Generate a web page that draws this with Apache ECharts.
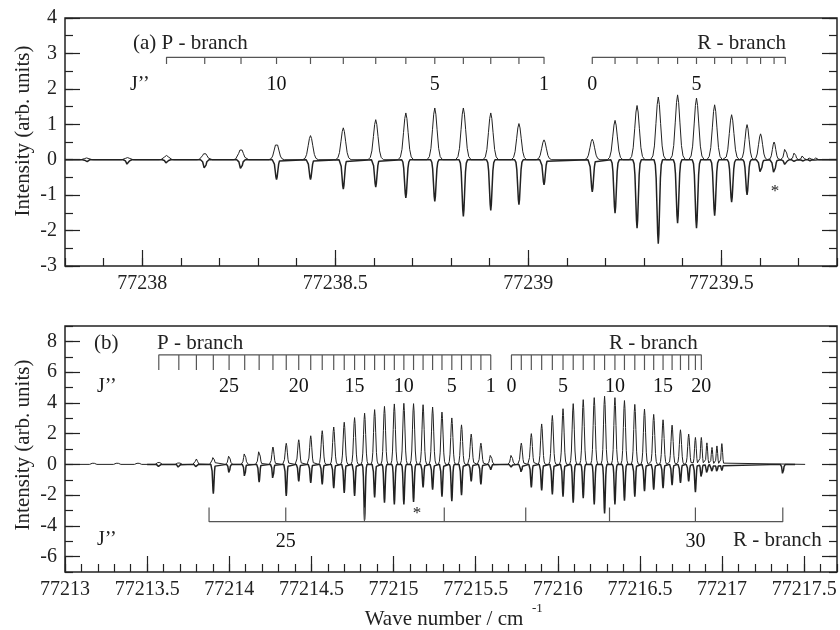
<!DOCTYPE html>
<html>
<head>
<meta charset="utf-8">
<script src="https://cdn.jsdelivr.net/npm/echarts@6/dist/echarts.min.js"></script>
<style>
  html, body { margin: 0; padding: 0; background: #fff; }
  #chart { width: 840px; height: 630px; }
</style>
</head>
<body>
<div id="chart"></div>
<script>
// ---- panel (a) ----
const topPJ = [15, 14, 13, 12, 11, 10, 9, 8, 7, 6, 5, 4, 3, 2, 1]
const topPPos = [77237.856, 77237.962, 77238.063, 77238.162, 77238.256, 77238.348, 77238.436, 77238.521,
  77238.605, 77238.683, 77238.758, 77238.832, 77238.903, 77238.976, 77239.041]
const topPUp = [0.05, 0.06, 0.12, 0.19, 0.31, 0.47, 0.68, 0.9, 1.13, 1.32, 1.46, 1.46, 1.32, 1.02, 0.56]
const topPDown = [-0.06, -0.14, -0.1, -0.26, -0.28, -0.56, -0.56, -0.83, -0.77, -1.08, -1.18, -1.6, -1.43, -1.27, -0.71]

const topRJ = [0, 1, 2, 3, 4, 5, 6, 7, 8, 9, 10, 11, 12, 13, 14, 15]
const topRPos = [77239.166, 77239.225, 77239.282, 77239.337, 77239.387, 77239.436, 77239.483, 77239.527,
  77239.567, 77239.602, 77239.637, 77239.666, 77239.690, 77239.711, 77239.730, 77239.745]
const topRUp = [0.58, 1.11, 1.53, 1.77, 1.83, 1.74, 1.55, 1.27, 0.99, 0.73, 0.5, 0.33, 0.21, 0.12, 0.08, 0.05]
const topRDown = [-0.91, -1.51, -1.93, -2.37, -1.79, -1.93, -1.58, -1.2, -0.99, -0.38, -0.4, -0.15, -0.05, -0.04, -0.03, -0.02]

const topPCombMaxJ = 13
const topRCombMaxJ = 11
const topPLabelJ = [10, 5, 1]
const topRLabelJ = [0, 5]

const topXTicks = [77238, 77238.5, 77239, 77239.5]
const topYTicks = [-3, -2, -1, 0, 1, 2, 3, 4]

// ---- panel (b) ----
const botPJ = [29, 28, 27, 26, 25, 24, 23, 22, 21, 20, 19, 18, 17, 16, 15, 14, 13, 12, 11, 10, 9, 8, 7, 6, 5, 4, 3, 2, 1]
const botPPos = [77213.571, 77213.693, 77213.800, 77213.903, 77213.999, 77214.094, 77214.182, 77214.266,
  77214.347, 77214.423, 77214.496, 77214.566, 77214.636, 77214.700, 77214.763, 77214.824, 77214.885,
  77214.945, 77215.005, 77215.063, 77215.122, 77215.180, 77215.238, 77215.295, 77215.355, 77215.414,
  77215.473, 77215.532, 77215.592]
const botPUp = [0.2, 0.15, 0.35, 0.5, 0.6, 0.77, 0.93, 1.13, 1.37, 1.6, 1.86, 2.19, 2.43, 2.74, 3.04,
  3.33, 3.56, 3.77, 3.93, 3.97, 3.95, 3.88, 3.73, 3.4, 3.02, 2.57, 1.97, 1.38, 0.66]
const botPDown = [-0.15, -0.3, -0.25, -1.9, -0.6, -0.85, -1.15, -1.0, -2.05, -1.1, -1.2, -1.3, -1.55, -1.85,
  -2.05, -3.6, -2.15, -2.5, -2.6, -2.6, -2.45, -1.5, -1.65, -2.1, -2.4, -2.0, -1.1, -1.3, -0.35]

const botRJ = [0, 1, 2, 3, 4, 5, 6, 7, 8, 9, 10, 11, 12, 13, 14, 15, 16, 17, 18, 19, 20]
const botRPos = [77215.718, 77215.778, 77215.839, 77215.902, 77215.967, 77216.032, 77216.094, 77216.155,
  77216.222, 77216.285, 77216.348, 77216.406, 77216.469, 77216.528, 77216.584, 77216.641, 77216.696,
  77216.747, 77216.797, 77216.838, 77216.874]
const botRUp = [0.66, 1.38, 2.0, 2.63, 3.18, 3.62, 3.95, 4.21, 4.34, 4.43, 4.34, 4.15, 3.9, 3.6, 3.25,
  2.9, 2.55, 2.25, 1.97, 1.75, 1.75]
const botRDown = [-0.2, -0.55, -1.5, -1.7, -1.95, -2.1, -2.5, -2.2, -2.6, -3.2, -2.6, -2.37, -2.1, -1.75,
  -1.65, -1.55, -1.35, -1.2, -1.1, -1.8, -0.9]

const botTailPos = [77216.908, 77216.939, 77216.969, 77216.999]
const botTailUp = [1.4, 1.1, 1.2, 1.35]
const botTailDown = [-0.6, -0.5, -0.5, -0.4]

const botPrePos = [77213.172, 77213.318, 77213.445]
const botPreUp = [0.12, 0.12, 0.12]

const botDipPos = [77217.37]
const botDipDown = [-0.66]

// lower comb (other band, R branch)
const lowJ = [24, 25, 26, 27, 28, 29, 30, 31]
const lowPos = [77213.877, 77214.344, 77214.823, 77215.309, 77215.805, 77216.315, 77216.838, 77217.370]
const lowLabelJ = [25, 30]
const botPLabelJ = [25, 20, 15, 10, 5, 1]
const botRLabelJ = [0, 5, 10, 15, 20]

const botXTicks = [77213, 77213.5, 77214, 77214.5, 77215, 77215.5, 77216, 77216.5, 77217, 77217.5]
const botYTicks = [-6, -4, -2, 0, 2, 4, 6, 8]

const FONT = 'Liberation Serif'
const INK = '#222'
// peak outline, in units of half width / height
const SHAPE = [[-1, 0], [-0.7, 0.06], [-0.5, 0.22], [-0.3, 0.58], [-0.14, 0.88], [0, 1],
  [0.14, 0.88], [0.3, 0.58], [0.5, 0.22], [0.7, 0.06], [1, 0]]

function trace(groups, halfWidth, start, end) {
  const peaks = []
  groups.forEach(([pos, amp]) => pos.forEach((x, i) => peaks.push([x, amp[i]])))
  peaks.sort((a, b) => a[0] - b[0])
  const pts = [[start, 0]]
  peaks.forEach(([x, a], i) => {
    let w = halfWidth
    if (i > 0) w = Math.min(w, (x - peaks[i - 1][0]) / 2)
    if (i < peaks.length - 1) w = Math.min(w, (peaks[i + 1][0] - x) / 2)
    SHAPE.forEach(([dx, f]) => pts.push([x + dx * w, a * f]))
  })
  pts.push([end, 0])
  return pts
}

function comb(pos, yLine, yTick) {
  const pts = []
  pos.forEach(x => pts.push([x, yLine], [x, yTick], [x, yLine]))
  return pts
}

function pick(js, pos, keep) {
  return pos.filter((x, i) => keep(js[i]))
}

function combLabels(js, pos, want, y) {
  return want.map(j => ({name: String(j), value: [pos[js.indexOf(j)], y]}))
}

function xAxes(grid, min, max, majors) {
  return [
    {type: 'value', gridIndex: grid, min, max, position: 'bottom',
      axisLine: {show: false, onZero: false}, splitLine: {show: false},
      axisTick: {inside: true, length: 16, customValues: majors, lineStyle: {color: INK, width: 1.2}},
      axisLabel: {customValues: majors, color: INK, fontFamily: FONT, fontSize: 20, margin: 8, formatter: v => String(v)}},
    {type: 'value', gridIndex: grid, min, max, interval: 0.1, position: 'bottom',
      axisLine: {show: false, onZero: false}, splitLine: {show: false}, axisLabel: {show: false},
      axisTick: {inside: true, length: 8, lineStyle: {color: INK, width: 1.2}}}
  ]
}

function yAxes(grid, min, max, majors, minorStep) {
  const out = []
  ;['left', 'right'].forEach(side => {
    out.push({type: 'value', gridIndex: grid, min, max, position: side,
      axisLine: {show: false, onZero: false}, splitLine: {show: false},
      axisTick: {inside: true, length: 15, customValues: majors, lineStyle: {color: INK, width: 1.2}},
      axisLabel: side === 'left'
        ? {customValues: majors, color: INK, fontFamily: FONT, fontSize: 20, margin: 8}
        : {show: false}})
    out.push({type: 'value', gridIndex: grid, min, max, interval: minorStep, position: side,
      axisLine: {show: false, onZero: false}, splitLine: {show: false}, axisLabel: {show: false},
      axisTick: {inside: true, length: 8, lineStyle: {color: INK, width: 1.2}}})
  })
  return out
}

function lineSeries(data, xi, yi, width, color) {
  return {type: 'line', xAxisIndex: xi, yAxisIndex: yi, data, symbol: 'none', silent: true,
    lineStyle: {color: color || INK, width}, z: 3}
}

function labelSeries(data, xi, yi) {
  return {type: 'scatter', xAxisIndex: xi, yAxisIndex: yi, data, symbolSize: 0.1, silent: true, z: 5,
    itemStyle: {color: INK, opacity: 1},
    label: {show: true, position: 'inside', formatter: '{b}', color: '#111', opacity: 1,
      fontFamily: FONT, fontSize: 20, textBorderWidth: 0}}
}

function text(t, x, y, align, size, rot) {
  return {type: 'text', x, y, rotation: rot || 0, silent: true,
    style: {text: t, fill: INK, fontFamily: FONT, fontSize: size || 21, align: align || 'left', verticalAlign: 'middle'}}
}

const chart = echarts.init(document.getElementById('chart'))

const series = [
  // panel (a)
  lineSeries(trace([[topPPos, topPUp], [topRPos, topRUp]], 0.02, 77237.8, 77239.8), 0, 0, 1),
  lineSeries(trace([[topPPos, topPDown], [topRPos, topRDown]], 0.011, 77237.8, 77239.8), 0, 0, 1.5),
  lineSeries(comb(pick(topPJ, topPPos, j => j <= topPCombMaxJ), 2.89, 2.7), 0, 0, 1.2, '#555'),
  lineSeries(comb(pick(topRJ, topRPos, j => j <= topRCombMaxJ), 2.89, 2.7), 0, 0, 1.2, '#555'),
  labelSeries(combLabels(topPJ, topPPos, topPLabelJ, 2.12)
    .concat(combLabels(topRJ, topRPos, topRLabelJ, 2.12)), 0, 0),
  // panel (b)
  lineSeries(trace([[botPrePos, botPreUp], [botPPos, botPUp], [botRPos, botRUp], [botTailPos, botTailUp]],
    0.022, 77213, 77217.506), 2, 4, 1),
  lineSeries(trace([[botPPos, botPDown], [botRPos, botRDown], [botTailPos, botTailDown], [botDipPos, botDipDown]],
    0.015, 77213.5, 77217.445), 2, 4, 1.5),
  lineSeries(comb(botPPos, 7.12, 6.14), 2, 4, 1.2, '#555'),
  lineSeries(comb(botRPos, 7.12, 6.14), 2, 4, 1.2, '#555'),
  lineSeries(comb(lowPos, -3.73, -2.8), 2, 4, 1.2, '#555'),
  labelSeries(combLabels(botPJ, botPPos, botPLabelJ, 5.02)
    .concat(combLabels(botRJ, botRPos, botRLabelJ, 5.02))
    .concat(combLabels(lowJ, lowPos, lowLabelJ, -5.05)), 2, 4)
]

chart.setOption({
  animation: false,
  backgroundColor: '#fff',
  grid: [
    {left: 65, top: 18, width: 772, height: 248, show: true, borderColor: INK, borderWidth: 1.5},
    {left: 65, top: 326, width: 772, height: 246, show: true, borderColor: INK, borderWidth: 1.5}
  ],
  xAxis: [].concat(
    xAxes(0, 77237.8, 77239.8, topXTicks),
    xAxes(1, 77213, 77217.7, botXTicks)
  ),
  yAxis: [].concat(
    yAxes(0, -3, 4, topYTicks, 0.5),
    yAxes(1, -7, 9, botYTicks, 1)
  ),
  series,
  graphic: [
    text('(a) P - branch', 133, 43),
    text('R - branch', 786, 43, 'right'),
    text('J\u2019\u2019', 130, 85, 'left', 20),
    text('*', 775, 192, 'center', 17),
    text('(b)', 94, 343),
    text('P - branch', 157, 343),
    text('R - branch', 609, 343),
    text('J\u2019\u2019', 97, 387, 'left', 20),
    text('J\u2019\u2019', 97, 540, 'left', 20),
    text('R - branch', 733, 540),
    text('*', 417, 514, 'center', 17),
    text('Intensity (arb. units)', 23, 131, 'center', 21, Math.PI / 2),
    text('Intensity (arb. units)', 23, 445, 'center', 21, Math.PI / 2),
    text('Wave number / cm', 444, 619, 'center', 21),
    text('-1', 532, 609, 'left', 13)
  ]
})
</script>
</body>
</html>
